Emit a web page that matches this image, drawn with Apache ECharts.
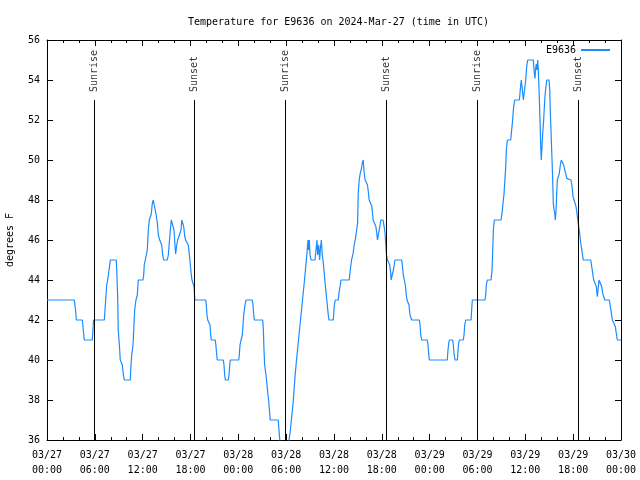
<!DOCTYPE html>
<html>
<head>
<meta charset="utf-8">
<script src="https://cdn.jsdelivr.net/npm/echarts@6/dist/echarts.min.js"></script>
<style>html,body{margin:0;padding:0;background:#fff}#c{width:640px;height:480px}</style>
</head>
<body>
<div id="c"></div>
<script>
// hours since 2024-03-27 00:00 UTC, temperature in degrees F
var tempDay1 = [
[0,43],[3.42,43],[3.58,42.5],[3.68,42],[4.43,42],[4.6,41.3],[4.68,41],[5.68,41],[5.77,41.5],[5.83,42],
[7.19,42],[7.36,43],[7.49,43.75],[7.61,44],[7.78,44.5],[7.94,45],[8.69,45],[8.78,44.2],[8.87,43],[8.94,41.5],
[9.12,40.5],[9.19,40],[9.45,39.75],[9.57,39.3],[9.7,39],[10.45,39],[10.5,39.5],[10.62,40.25],[10.79,40.75],[10.88,41.5],
[11.0,42.5],[11.16,43],[11.33,43.25],[11.45,44],[12.04,44],[12.13,44.25],[12.2,44.75],[12.33,45],[12.5,45],[12.58,45.5],
[12.71,46.5],[12.83,47],[13.0,47],[13.08,47.3],[13.2,47.8],[13.33,48],[13.58,48],[13.67,47.3],[13.84,46.85],[13.96,46.25],
[14.14,46],[14.26,46],[14.39,45.75],[14.51,45.25],[14.64,45],[15.09,45],[15.22,45.25],[15.34,45.85],[15.47,46.5],[15.59,47],
[15.84,47],[15.93,46.5],[16.06,45.7],[16.14,45.3],[16.27,45.75],[16.39,46],[16.52,46.1],[16.65,46.3],[16.81,46.5],[16.9,47],
[17.02,46.85],[17.15,46.67],[17.27,46.2],[17.4,46],[17.6,46],[17.72,45.75],[17.85,45.3],[17.98,44.75],[18.1,44.25],[18.19,44],
[18.4,44],[18.44,43.67],[18.5,43.25],[18.55,43],[19.91,43],[19.98,42.75],[20.07,42.25],[20.16,42],[20.36,42],[20.45,41.75],
[20.53,41.25],[20.61,41],[21.11,41],[21.2,40.67],[21.29,40.25],[21.36,40],[22.12,40],[22.2,39.75],[22.29,39.25],[22.37,39],
[22.74,39],[22.83,39.25],[22.92,39.75],[22.99,40],[24.05,40]
];
var tempDay2 = [
[24.12,40.25],[24.21,40.75],[24.34,41],[24.5,41.25],[24.59,41.75],[24.67,42.25],[24.75,42.5],[24.84,42.75],[24.96,43],[25.75,43],
[25.84,42.75],[25.93,42.25],[26.0,42],[27.06,42],[27.14,41.5],[27.22,40.5],[27.3,39.75],[27.47,39.25],[27.6,38.75],[27.72,38.25],
[27.8,38],[27.97,38],[28.0,37],[29.0,37],[29.1,36.5],[29.2,36],[29.35,35.7],[30.25,35.7],[30.36,36],[30.49,36.35],
[30.61,36.83],[30.74,37.33],[30.86,37.8],[30.99,38.5],[31.11,39.17],[31.24,39.75],[31.36,40.25],[31.49,40.75],[31.61,41.25],[31.74,41.75],
[31.86,42.25],[31.99,42.75],[32.11,43.25],[32.24,43.75],[32.36,44.25],[32.49,44.83],[32.61,45.33],[32.74,46],[32.82,45.5],[32.9,46],
[32.99,45.25],[33.12,45],[33.62,45],[33.74,45.5],[33.87,46],[33.95,45.25],[34.08,45.75],[34.2,45],[34.28,45.5],[34.41,46],
[34.53,45.25],[34.66,44.83],[34.78,44.33],[34.91,43.75],[35.03,43.25],[35.16,42.75],[35.28,42.25],[35.37,42],[35.91,42],[36.04,42.75],
[36.16,43],[36.54,43],[36.62,43.33],[36.79,43.75],[36.87,44],[37.91,44],[38.04,44.5],[38.12,44.75],[38.2,45],[38.4,45.33],
[38.53,45.75],[38.66,46],[38.83,46],[38.96,46.83],[39.04,48.33],[39.16,49],[39.29,49.33],[39.41,49.5],[39.54,49.83],[39.66,50],
[39.79,49.33],[39.91,49],[40.08,49],[40.2,48.75],[40.33,48.33],[40.41,48],[40.62,48],[40.75,47.67],[40.83,47.33],[40.91,47],
[41.12,47],[41.25,46.67],[41.37,46.33],[41.45,46],[41.62,46],[41.75,46.67],[41.87,47],[42.16,47],[42.29,46.67],[42.41,46.33],
[42.45,46],[42.5,45.75],[42.58,45.25],[42.7,45],[42.87,45],[42.99,44.75],[43.12,44.33],[43.16,44],[43.37,44],[43.45,44.5],
[43.65,45],[44.49,45],[44.57,44.75],[44.69,44.25],[44.82,44],[44.95,43.75],[45.07,43.25],[45.16,43],[45.32,43],[45.41,42.75],
[45.53,42.25],[45.66,42.25],[45.75,42],[46.7,42],[46.79,41.75],[46.88,41.25],[47.0,41],[47.7,41],[47.79,40.75],[47.88,40.33],
[47.96,40]
];
var tempDay3 = [
[50.21,40],[50.3,40.5],[50.39,40.83],[50.47,41],[50.89,41],[50.97,40.75],[51.05,40.33],[51.18,40],[51.47,40],[51.56,40.5],
[51.64,40.83],[51.72,41],[52.22,41],[52.31,41.25],[52.4,41.75],[52.52,42],[53.19,42],[53.27,42.5],[53.35,43],[54.94,43],
[55.03,43.25],[55.11,43.75],[55.23,44],[55.7,44],[55.82,44.5],[55.91,45.5],[55.99,46.5],[56.11,47],[56.95,47],[57.07,47.33],
[57.2,47.83],[57.33,48.33],[57.41,48.83],[57.54,49.67],[57.62,50.5],[57.74,51],[58.17,51],[58.24,51.33],[58.37,51.83],[58.45,52.25],
[58.54,52.67],[58.67,53],[59.25,53],[59.33,53.33],[59.42,53.75],[59.5,54],[59.58,53.67],[59.67,53.33],[59.75,53],[59.96,53],
[60.05,54],[60.17,54.67],[60.3,55],[61.0,55],[61.09,54.5],[61.21,54.08],[61.3,54.6],[61.38,54.8],[61.46,54.5],[61.55,55],
[61.63,54.5],[61.72,53.5],[61.84,52],[61.93,50.67],[62.0,50],[62.09,50.67],[62.18,51.33],[62.3,52],[62.43,53],[62.56,53.58],
[62.68,54],[62.97,54],[63.06,53.5],[63.13,52.5],[63.26,51],[63.35,50],[63.43,49],[63.51,47.83],[63.6,47.5],[63.69,47.33],
[63.76,47],[63.85,47.5],[63.94,48.33],[64.01,49],[64.19,49],[64.26,49.33],[64.39,49.75],[64.51,50],[64.69,50],[64.81,49.75],
[64.94,49.5],[65.07,49.33],[65.19,49.08],[65.27,49],[65.73,49],[65.86,48.67],[65.98,48.17],[66.11,48],[66.27,48],[66.36,47.67],
[66.48,47.33],[66.57,47],[66.73,47],[66.82,46.33],[66.9,46],[67.02,45.67],[67.15,45.33],[67.27,45],[68.2,45],[68.33,44.67],
[68.45,44.33],[68.58,44],[68.78,44],[68.9,43.67],[69.03,43.17],[69.16,43.67],[69.24,44],[69.45,44],[69.58,43.67],[69.71,43.33],
[69.83,43.17],[69.96,43],[70.54,43],[70.66,42.67],[70.79,42.33],[70.91,42],[71.16,42],[71.29,41.67],[71.41,41.33],[71.54,41],
[72,41]
];
var sunEventHours = [5.93, 18.48, 29.9, 42.56, 53.98, 66.65];
var sunEventNames = ['Sunrise', 'Sunset', 'Sunrise', 'Sunset', 'Sunrise', 'Sunset'];
var sunLineTop = 53;
var xTickLabels = ['03/27\n00:00','03/27\n06:00','03/27\n12:00','03/27\n18:00','03/28\n00:00','03/28\n06:00','03/28\n12:00',
                   '03/28\n18:00','03/29\n00:00','03/29\n06:00','03/29\n12:00','03/29\n18:00','03/30\n00:00'];
var seriesName = 'E9636';
var titleText = 'Temperature for E9636 on 2024-Mar-27 (time in UTC)';
var yAxisName = 'degrees F';

var FONT = 'DejaVu Sans Mono';
var lineColor = '#1a8cff';
var tempData = tempDay1.concat(tempDay2, tempDay3);

var sunPoints = sunEventHours.map(function (h, i) { return { value: [h, sunLineTop], name: sunEventNames[i] }; });
var sunLines = sunEventHours.map(function (h) { return [{ coord: [h, sunLineTop] }, { coord: [h, 36] }]; });

var baseX = {
  type: 'value', min: 0, max: 72, interval: 6,
  axisLine: { show: true, onZero: false, lineStyle: { color: '#000', width: 1 } },
  axisTick: { show: true, inside: true, length: 6, lineStyle: { color: '#000' } },
  minorTick: { show: true, splitNumber: 3, length: 3, lineStyle: { color: '#000' } },
  splitLine: { show: false }, minorSplitLine: { show: false }
};
var baseY = {
  type: 'value', min: 36, max: 56, interval: 2,
  axisLine: { show: true, onZero: false, lineStyle: { color: '#000', width: 1 } },
  axisTick: { show: true, inside: true, length: 6, lineStyle: { color: '#000' } },
  splitLine: { show: false }
};

var chart = echarts.init(document.getElementById('c'), null, { renderer: 'canvas' });
chart.setOption({
  animation: false,
  backgroundColor: '#fff',
  title: { text: titleText, left: 183, top: 12,
    textStyle: { fontFamily: FONT, fontSize: 10, fontWeight: 'normal', color: '#000' } },
  legend: { right: 25, top: 40, align: 'right', itemWidth: 29, itemHeight: 2, itemGap: 0,
    data: [{ name: seriesName, icon: 'rect' }],
    textStyle: { fontFamily: FONT, fontSize: 10, color: '#000' } },
  grid: { left: 47, right: 19, top: 40, bottom: 40, containLabel: false, outerBoundsMode: 'none' },
  xAxis: [
    Object.assign({}, baseX, { position: 'bottom',
      axisLabel: { show: true, margin: 8, lineHeight: 15, fontFamily: FONT, fontSize: 10, color: '#000',
        formatter: function (v) { return xTickLabels[Math.round(v / 6)]; } } }),
    Object.assign({}, baseX, { position: 'top', axisLabel: { show: false } })
  ],
  yAxis: [
    Object.assign({}, baseY, { position: 'left', name: yAxisName, nameLocation: 'middle', nameGap: 32,
      nameTextStyle: { fontFamily: FONT, fontSize: 10, color: '#000' },
      axisLabel: { show: true, margin: 7, fontFamily: FONT, fontSize: 10, color: '#000' } }),
    Object.assign({}, baseY, { position: 'right', axisLabel: { show: false } })
  ],
  series: [
    { name: seriesName, type: 'line', data: tempData, showSymbol: false, symbol: 'none', clip: true,
      color: lineColor, lineStyle: { color: lineColor, width: 1.2 }, z: 3 },
    { name: 'sun', type: 'scatter', data: sunPoints, symbolSize: 0, z: 4,
      label: { show: true, position: 'top', distance: 8, rotate: 90, align: 'left', verticalAlign: 'middle',
        formatter: function (p) { return p.name; }, fontFamily: FONT, fontSize: 10, color: '#000' },
      markLine: { silent: true, symbol: ['none', 'none'], label: { show: false },
        lineStyle: { color: '#000', width: 1, type: 'solid' }, data: sunLines } }
  ]
});
</script>
</body>
</html>
